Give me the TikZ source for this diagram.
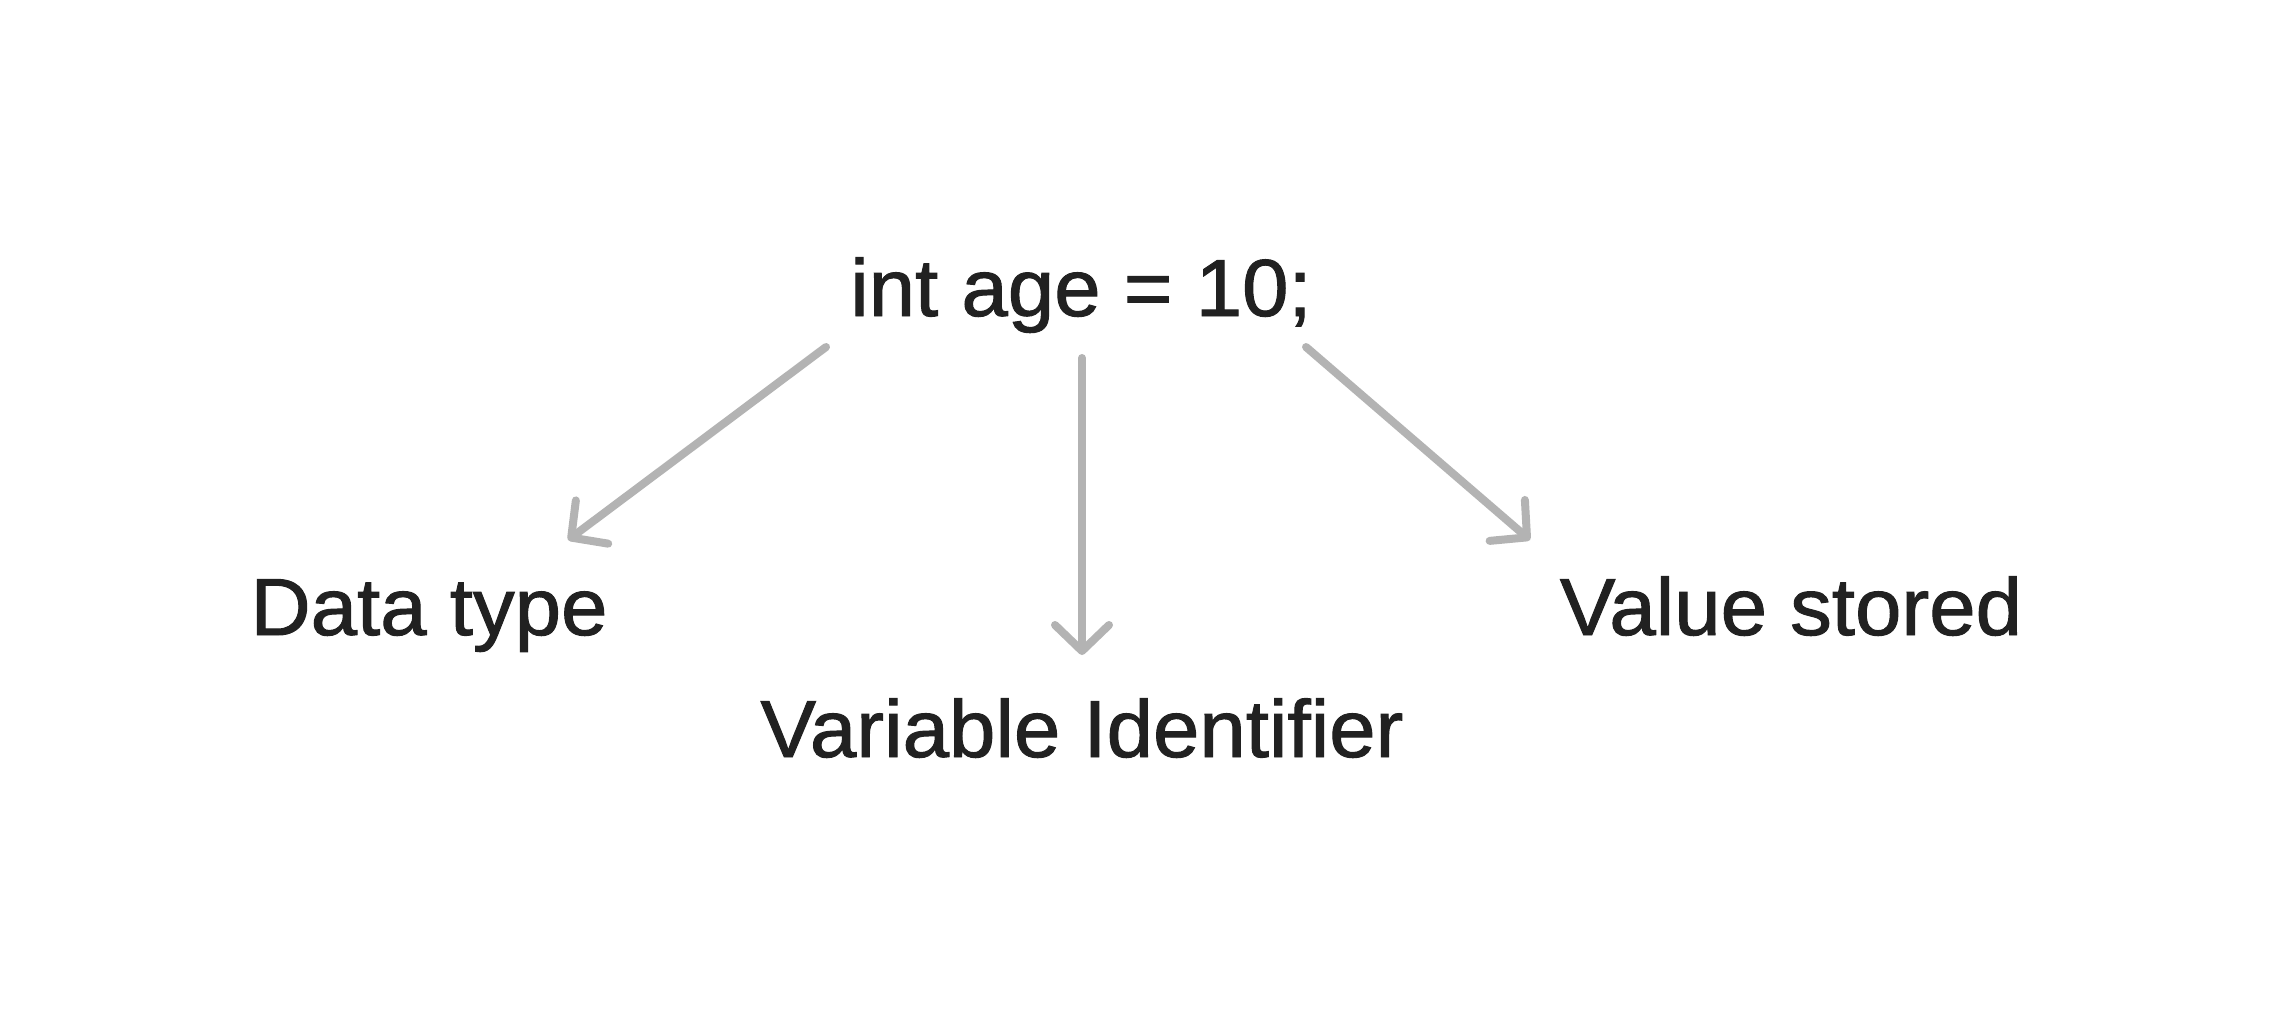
\documentclass[tikz,border=0pt]{standalone}
\usepackage{fontspec}
\setmainfont{Liberation Sans}
\newfontfamily\lblfont[FakeBold=1.2]{Liberation Sans}
\usetikzlibrary{arrows.meta}
\definecolor{txt}{HTML}{212121}
\definecolor{arr}{HTML}{B3B3B3}
\begin{document}
\begin{tikzpicture}[x=1pt,y=-1pt,
  lbl/.style={anchor=base,inner sep=0pt,text=txt,xscale=1.03,font=\lblfont\fontsize{81}{90}\selectfont},
  conn/.style={draw=arr,line width=8pt,line cap=round,
    -{Straight Barb[length=26pt,width=54pt,round]}}]
\path[use as bounding box,fill=white] (0,0) rectangle (2272,1014);
\node[lbl] (code) at (1081,316) {int age = 10;};
\node[lbl] (dtype) at (429,635) {Data type};
\node[lbl] (vid) at (1082,757) {Variable Identifier};
\node[lbl] (val) at (1791,635) {Value stored};
\coordinate (s1) at (826,347);
\coordinate (e1) at (568,540);
\coordinate (s2) at (1082,358);
\coordinate (e2) at (1082,655);
\coordinate (s3) at (1306,347);
\coordinate (e3) at (1530,540);
\draw[conn] (s1) -- (e1);
\draw[conn] (s2) -- (e2);
\draw[conn] (s3) -- (e3);
\end{tikzpicture}
\end{document}
